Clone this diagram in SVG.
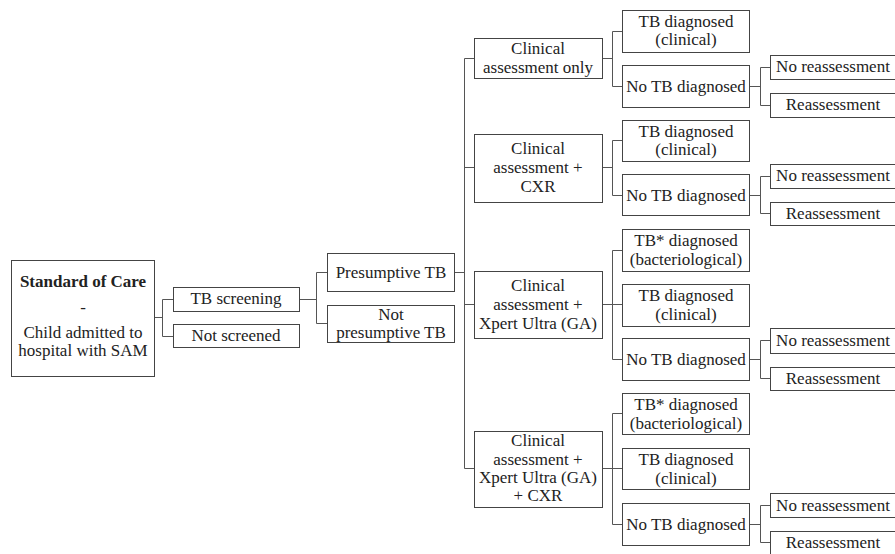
<svg xmlns="http://www.w3.org/2000/svg" width="895" height="554" viewBox="0 0 895 554" font-family="Liberation Serif, DejaVu Serif, serif">
<style>
rect{fill:#fff;stroke:#444;stroke-width:1}
text{font-size:17px;fill:#222;text-anchor:middle}
.b{font-weight:bold}
#connectors path{fill:none;stroke:#555;stroke-width:1}
</style>
<rect x="0" y="0" width="895" height="554" style="stroke:none"/>
<g id="connectors">
<path d="M154 317.5H162.5M173 299.5H162.5V336.5H173"/>
<path d="M299 299.5H316.5M327 272.5H316.5V323.5H327"/>
<path d="M454 272.5H464.5M474 58.5H464.5V468.5H474M464.5 167.5H474M464.5 304.5H474"/>
<path d="M602 58.5H612.5M622 31.5H612.5V86.5H622"/>
<path d="M749 86.5H760.5M770 67.5H760.5V105.5H770"/>
<path d="M602 167.5H612.5M622 140.5H612.5V195.5H622"/>
<path d="M749 195.5H760.5M770 176.5H760.5V213.5H770"/>
<path d="M602 304.5H622M622 250.5H612.5V359.5H622"/>
<path d="M749 359.5H760.5M770 340.5H760.5V378.5H770"/>
<path d="M602 468.5H622M622 413.5H612.5V524.5H622"/>
<path d="M749 524.5H760.5M770 505.5H760.5V542.5H770"/>
</g>
<g id="soc"><rect x="11.5" y="260.5" width="143" height="116"/>
<text class="b" x="83" y="287">Standard of Care</text><text x="83" y="313">-</text><text x="83" y="338">Child admitted to</text><text x="83" y="356">hospital with SAM</text></g>
<g id="tb-screening"><rect x="173.5" y="287.5" width="126" height="24"/><text x="236" y="304">TB screening</text></g>
<g id="not-screened"><rect x="173.5" y="324.5" width="126" height="23"/><text x="236" y="341">Not screened</text></g>
<g id="presumptive"><rect x="327.5" y="253.5" width="127" height="38"/><text x="391" y="278">Presumptive TB</text></g>
<g id="not-presumptive"><rect x="327.5" y="305.5" width="127" height="37"/><text x="391" y="320">Not</text><text x="391" y="338">presumptive TB</text></g>
<g id="ca1"><rect x="474.5" y="38.5" width="128" height="40"/><text x="538" y="54">Clinical</text><text x="538" y="73">assessment only</text></g>
<g id="ca2"><rect x="474.5" y="134.5" width="128" height="68"/><text x="538" y="154">Clinical</text><text x="538" y="173">assessment +</text><text x="538" y="192">CXR</text></g>
<g id="ca3"><rect x="474.5" y="271.5" width="128" height="67"/><text x="538" y="291">Clinical</text><text x="538" y="310">assessment +</text><text x="538" y="329">Xpert Ultra (GA)</text></g>
<g id="ca4"><rect x="474.5" y="431.5" width="128" height="76"/><text x="538" y="446">Clinical</text><text x="538" y="465">assessment +</text><text x="538" y="483">Xpert Ultra (GA)</text><text x="538" y="501">+ CXR</text></g>
<g id="b1-tb"><rect x="622.5" y="10.5" width="127" height="42"/><text x="686" y="27">TB diagnosed</text><text x="686" y="45">(clinical)</text></g>
<g id="b1-notb"><rect x="622.5" y="65.5" width="127" height="42"/><text x="686" y="92">No TB diagnosed</text></g>
<g id="b1-nore"><rect x="770.5" y="55.5" width="130" height="24"/><text x="833" y="72">No reassessment</text></g>
<g id="b1-re"><rect x="770.5" y="93.5" width="130" height="24"/><text x="833" y="110">Reassessment</text></g>
<g id="b2-tb"><rect x="622.5" y="120.5" width="127" height="41"/><text x="686" y="137">TB diagnosed</text><text x="686" y="155">(clinical)</text></g>
<g id="b2-notb"><rect x="622.5" y="174.5" width="127" height="41"/><text x="686" y="201">No TB diagnosed</text></g>
<g id="b2-nore"><rect x="770.5" y="164.5" width="130" height="24"/><text x="833" y="181">No reassessment</text></g>
<g id="b2-re"><rect x="770.5" y="202.5" width="130" height="23"/><text x="833" y="219">Reassessment</text></g>
<g id="b3-tbb"><rect x="622.5" y="229.5" width="127" height="42"/><text x="686" y="246">TB* diagnosed</text><text x="686" y="265">(bacteriological)</text></g>
<g id="b3-tb"><rect x="622.5" y="284.5" width="127" height="42"/><text x="686" y="301">TB diagnosed</text><text x="686" y="320">(clinical)</text></g>
<g id="b3-notb"><rect x="622.5" y="338.5" width="127" height="42"/><text x="686" y="365">No TB diagnosed</text></g>
<g id="b3-nore"><rect x="770.5" y="328.5" width="130" height="25"/><text x="833" y="346">No reassessment</text></g>
<g id="b3-re"><rect x="770.5" y="367.5" width="130" height="23"/><text x="833" y="384">Reassessment</text></g>
<g id="b4-tbb"><rect x="622.5" y="393.5" width="127" height="41"/><text x="686" y="410">TB* diagnosed</text><text x="686" y="429">(bacteriological)</text></g>
<g id="b4-tb"><rect x="622.5" y="448.5" width="127" height="41"/><text x="686" y="465">TB diagnosed</text><text x="686" y="484">(clinical)</text></g>
<g id="b4-notb"><rect x="622.5" y="503.5" width="127" height="42"/><text x="686" y="530">No TB diagnosed</text></g>
<g id="b4-nore"><rect x="770.5" y="493.5" width="130" height="24"/><text x="833" y="511">No reassessment</text></g>
<g id="b4-re"><rect x="770.5" y="531.5" width="130" height="23"/><text x="833" y="548">Reassessment</text></g>
</svg>
